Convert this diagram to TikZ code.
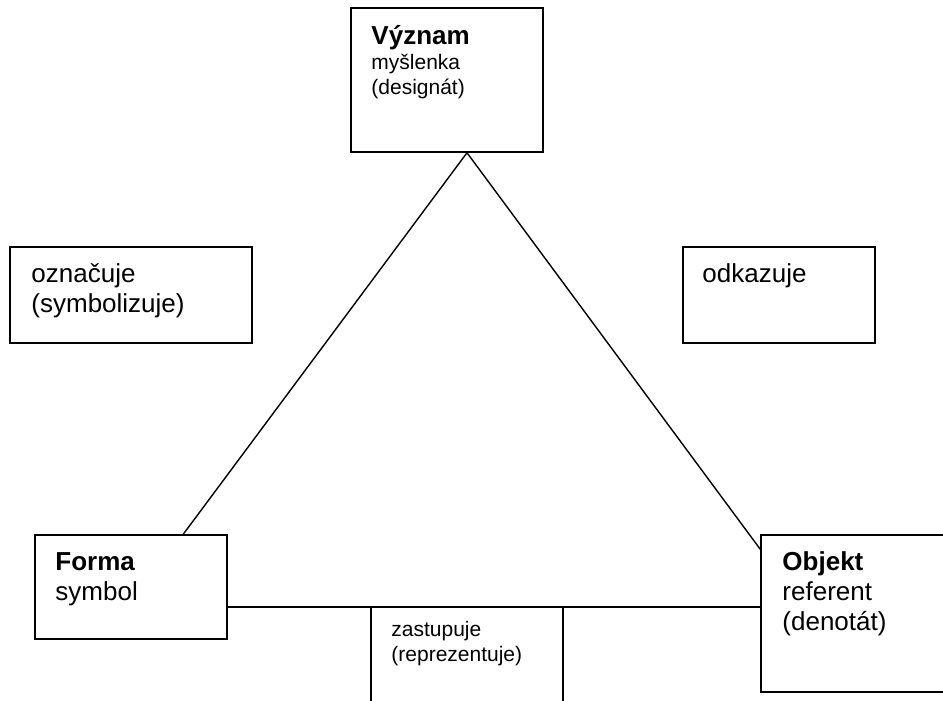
\documentclass[tikz,border=0pt]{standalone}
\usepackage{fontspec}
\setmainfont{Liberation Sans}
\usepackage{tikz}
\usetikzlibrary{calc}

\tikzset{
  box/.style={draw,rectangle,line width=1.5pt,minimum width=192pt},
  boxtext/.style={anchor=base west,align=left,text width=200pt,inner sep=0pt,font=\fontsize{26}{30}\selectfont},
  smalltext/.style={boxtext,font=\fontsize{21}{25}\selectfont},
  edge/.style={line width=1.4pt}
}

\begin{document}
\begin{tikzpicture}[x=1pt,y=-1pt,inner sep=0pt]
\clip (0,0) rectangle (943,701);
\draw node [box,minimum height=144pt] (vyznam) at (447,80) {};
\draw node [box,minimum width=242pt,minimum height=96pt] (oznacuje) at (131,295) {};
\draw node [box,minimum height=96pt] (odkazuje) at (779,295) {};
\draw node [box,minimum height=104pt] (forma) at (131,587) {};
\draw node [box,minimum height=157pt] (objekt) at (857,613.5) {};
\draw node [box,minimum height=144pt] (zastupuje) at (467,679) {};
% texts inside the boxes
\node [smalltext] (vyznam-t) at ($(vyznam.north west)+(21,37)$) {{\fontsize{26}{30}\selectfont\bfseries Význam}\\myšlenka\\(designát)};
\node [boxtext] (oznacuje-t) at ($(oznacuje.north west)+(22,36)$) {označuje\\(symbolizuje)};
\node [boxtext] (odkazuje-t) at ($(odkazuje.north west)+(20,36)$) {odkazuje};
\node [boxtext] (forma-t) at ($(forma.north west)+(21,36)$) {\textbf{Forma}\\symbol};
\node [boxtext] (objekt-t) at ($(objekt.north west)+(22,36)$) {\textbf{Objekt}\\referent\\(denotát)};
\node [smalltext] (zastupuje-t) at ($(zastupuje.north west)+(21,30)$) {zastupuje\\(reprezentuje)};
% triangle
\coordinate (apex) at ($(vyznam.south)+(20,0)$);
\draw [edge] (apex) -- ($(forma.north west)+(149,0)$);
\draw [edge] (apex) -- ($(objekt.north west)+(0,15)$);
\draw [edge] ($(forma.east)+(0,20)$) -- ($(objekt.west)+(0,-6.5)$);
\end{tikzpicture}
\end{document}
